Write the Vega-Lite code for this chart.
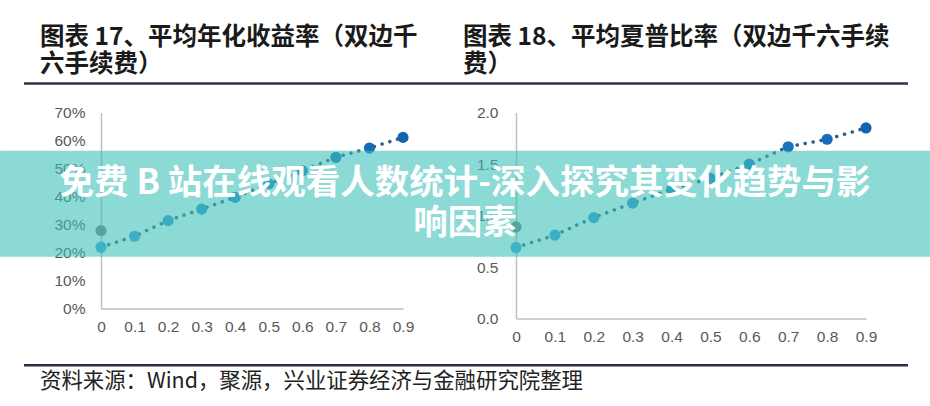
{
  "$schema": "https://vega.github.io/schema/vega-lite/v6.json",
  "background": "white",
  "padding": {"left": 0, "top": 24.5, "right": 0, "bottom": 14},
  "bounds": "flush",
  "spacing": 113,
  "config": {
    "view": {"stroke": null},
    "axis": {"domainColor": "#bfbfbf", "domainWidth": 1.5, "ticks": false, "grid": false, "labelColor": "#595959", "labelFont": "Liberation Sans", "labelFontSize": 15.5, "title": null, "labelOverlap": false},
    "axisX": {"labelPadding": 11, "labelFlush": false},
    "axisY": {"labelPadding": 16}
  },
  "hconcat": [
    {
      "width": 302,
      "height": 196,
      "data": {"values": [
        {"x": 0, "v": 0.219, "s": "策略"},
        {"x": 0.1, "v": 0.258, "s": "策略"},
        {"x": 0.2, "v": 0.314, "s": "策略"},
        {"x": 0.3, "v": 0.355, "s": "策略"},
        {"x": 0.4, "v": 0.397, "s": "策略"},
        {"x": 0.5, "v": 0.445, "s": "策略"},
        {"x": 0.6, "v": 0.492, "s": "策略"},
        {"x": 0.7, "v": 0.540, "s": "策略"},
        {"x": 0.8, "v": 0.573, "s": "策略"},
        {"x": 0.9, "v": 0.611, "s": "策略"},
        {"x": 0, "v": 0.278, "s": "基准"}
      ]},
      "encoding": {
        "x": {"field": "x", "type": "quantitative", "scale": {"domain": [0, 0.9], "nice": false, "zero": false}, "axis": {"values": [0, 0.1, 0.2, 0.3, 0.4, 0.5, 0.6, 0.7, 0.8, 0.9], "format": "~g"}},
        "y": {"field": "v", "type": "quantitative", "scale": {"domain": [0, 0.7], "nice": false}, "axis": {"values": [0, 0.1, 0.2, 0.3, 0.4, 0.5, 0.6, 0.7], "format": ".0%"}}
      },
      "layer": [
        {"transform": [{"filter": "datum.s == '策略'"}], "mark": {"type": "line", "strokeDash": [0.1, 8], "strokeCap": "round", "strokeWidth": 3.5, "color": "#33607e"}},
        {"transform": [{"filter": "datum.s == '策略'"}], "mark": {"type": "circle", "size": 125, "opacity": 1},
         "encoding": {"color": {"field": "x", "type": "quantitative", "scale": {"domain": [0, 0.9], "range": ["#4aa1d9", "#1463b3"]}, "legend": null}}},
        {"transform": [{"filter": "datum.s == '基准'"}], "mark": {"type": "circle", "size": 125, "opacity": 1, "color": "#7f7f7f"}}
      ]
    },
    {
      "width": 350,
      "height": 206,
      "layer": [
        {
          "data": {"values": [
            {"x": 0, "v": 0.69, "s": "策略"},
            {"x": 0.1, "v": 0.81, "s": "策略"},
            {"x": 0.2, "v": 0.98, "s": "策略"},
            {"x": 0.3, "v": 1.12, "s": "策略"},
            {"x": 0.4, "v": 1.256, "s": "策略"},
            {"x": 0.5, "v": 1.36, "s": "策略"},
            {"x": 0.6, "v": 1.499, "s": "策略"},
            {"x": 0.7, "v": 1.667, "s": "策略"},
            {"x": 0.8, "v": 1.74, "s": "策略"},
            {"x": 0.9, "v": 1.85, "s": "策略"},
            {"x": 0, "v": 0.89, "s": "基准"}
          ]},
          "encoding": {
            "x": {"field": "x", "type": "quantitative", "scale": {"domain": [0, 0.9], "nice": false, "zero": false}, "axis": {"values": [0, 0.1, 0.2, 0.3, 0.4, 0.5, 0.6, 0.7, 0.8, 0.9], "format": "~g"}},
            "y": {"field": "v", "type": "quantitative", "scale": {"domain": [0, 2], "nice": false}, "axis": {"values": [0, 0.5, 1, 1.5, 2], "format": ".1f", "labelPadding": 18}}
          },
          "layer": [
            {"transform": [{"filter": "datum.s == '策略'"}], "mark": {"type": "line", "strokeDash": [0.1, 8], "strokeCap": "round", "strokeWidth": 3.5, "color": "#33607e"}},
            {"transform": [{"filter": "datum.s == '策略'"}], "mark": {"type": "circle", "size": 125, "opacity": 1},
             "encoding": {"color": {"field": "x", "type": "quantitative", "scale": {"domain": [0, 0.9], "range": ["#4aa1d9", "#1463b3"]}, "legend": null}}},
            {"transform": [{"filter": "datum.s == '基准'"}], "mark": {"type": "circle", "size": 125, "opacity": 1, "color": "#7f7f7f"}}
          ]
        },
        {
          "data": {"values": [{}]},
          "mark": {"type": "rect", "fill": "#39c0b9", "opacity": 0.58},
          "encoding": {
            "x": {"datum": -1.3268, "type": "quantitative", "axis": {"values": [0, 0.1, 0.2, 0.3, 0.4, 0.5, 0.6, 0.7, 0.8, 0.9], "format": "~g"}},
            "x2": {"datum": 1.0645},
            "y": {"datum": 1.6282, "type": "quantitative", "axis": {"values": [0, 0.5, 1, 1.5, 2], "format": ".1f", "labelPadding": 18}},
            "y2": {"datum": 0.599}
          }
        },
        {
          "data": {"values": [{}]},
          "mark": {"type": "text", "text": ["免费 B 站在线观看人数统计-深入探究其变化趋势与影", "响因素"], "font": "Noto Sans CJK SC", "fontWeight": "bold", "fontSize": 34.5, "lineHeight": 40, "color": "white", "align": "center", "baseline": "middle"},
          "encoding": {
            "x": {"datum": -0.1311, "type": "quantitative", "axis": {"values": [0, 0.1, 0.2, 0.3, 0.4, 0.5, 0.6, 0.7, 0.8, 0.9], "format": "~g"}},
            "y": {"datum": 1.305, "type": "quantitative", "axis": {"values": [0, 0.5, 1, 1.5, 2], "format": ".1f", "labelPadding": 18}}
          }
        },
        {
          "data": {"values": [{}]},
          "mark": {"type": "text", "text": ["图表 17、平均年化收益率（双边千", "六手续费）"], "font": "Noto Sans CJK SC", "fontWeight": "bold", "fontSize": 24.5, "lineHeight": 27, "color": "#1a1a1a", "align": "left", "baseline": "top"},
          "encoding": {
            "x": {"datum": -1.224, "type": "quantitative", "axis": {"values": [0, 0.1, 0.2, 0.3, 0.4, 0.5, 0.6, 0.7, 0.8, 0.9], "format": "~g"}},
            "y": {"datum": 2.8379, "type": "quantitative", "axis": {"values": [0, 0.5, 1, 1.5, 2], "format": ".1f", "labelPadding": 18}}
          }
        },
        {
          "data": {"values": [{}]},
          "mark": {"type": "text", "text": ["图表 18、平均夏普比率（双边千六手续", "费）"], "font": "Noto Sans CJK SC", "fontWeight": "bold", "fontSize": 24.5, "lineHeight": 27, "color": "#1a1a1a", "align": "left", "baseline": "top"},
          "encoding": {
            "x": {"datum": -0.1363, "type": "quantitative", "axis": {"values": [0, 0.1, 0.2, 0.3, 0.4, 0.5, 0.6, 0.7, 0.8, 0.9], "format": "~g"}},
            "y": {"datum": 2.8379, "type": "quantitative", "axis": {"values": [0, 0.5, 1, 1.5, 2], "format": ".1f", "labelPadding": 18}}
          }
        },
        {
          "data": {"values": [{}]},
          "mark": {"type": "rule", "color": "#2d2f4a", "strokeWidth": 2.5},
          "encoding": {
            "x": {"datum": -1.2651, "type": "quantitative", "axis": {"values": [0, 0.1, 0.2, 0.3, 0.4, 0.5, 0.6, 0.7, 0.8, 0.9], "format": "~g"}},
            "x2": {"datum": 1.008},
            "y": {"datum": 2.2816, "type": "quantitative", "axis": {"values": [0, 0.5, 1, 1.5, 2], "format": ".1f", "labelPadding": 18}}
          }
        },
        {
          "data": {"values": [{}]},
          "mark": {"type": "rule", "color": "#2d2f4a", "strokeWidth": 2.5},
          "encoding": {
            "x": {"datum": -1.2651, "type": "quantitative", "axis": {"values": [0, 0.1, 0.2, 0.3, 0.4, 0.5, 0.6, 0.7, 0.8, 0.9], "format": "~g"}},
            "x2": {"datum": 1.008},
            "y": {"datum": -0.4544, "type": "quantitative", "axis": {"values": [0, 0.5, 1, 1.5, 2], "format": ".1f", "labelPadding": 18}}
          }
        },
        {
          "data": {"values": [{}]},
          "mark": {"type": "text", "text": "资料来源：Wind，聚源，兴业证券经济与金融研究院整理", "font": "Noto Sans CJK SC", "fontSize": 21.4, "color": "#222222", "align": "left", "baseline": "middle"},
          "encoding": {
            "x": {"datum": -1.224, "type": "quantitative", "axis": {"values": [0, 0.1, 0.2, 0.3, 0.4, 0.5, 0.6, 0.7, 0.8, 0.9], "format": "~g"}},
            "y": {"datum": -0.62, "type": "quantitative", "axis": {"values": [0, 0.5, 1, 1.5, 2], "format": ".1f", "labelPadding": 18}}
          }
        }
      ]
    }
  ]
}
